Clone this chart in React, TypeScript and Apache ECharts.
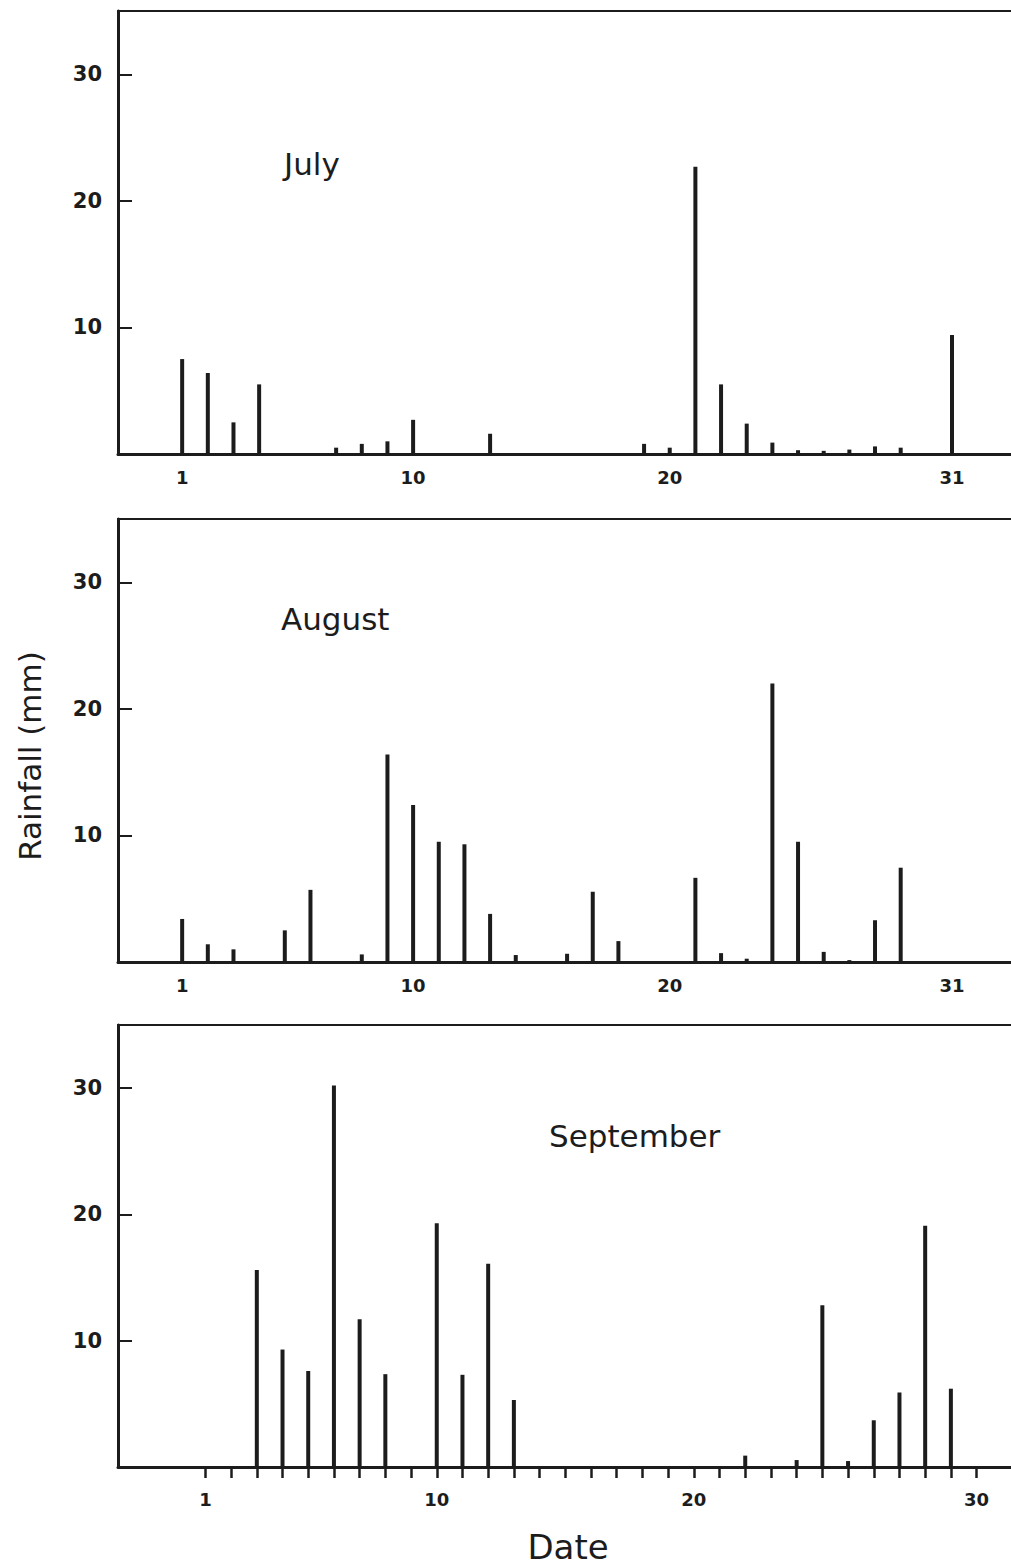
import React, { useEffect, useRef } from "react";
import * as echarts from "echarts";

// Daily rainfall (mm)
const julyDays = [1, 2, 3, 4, 7, 8, 9, 10, 13, 19, 20, 21, 22, 23, 24, 25, 26, 27, 28, 29, 31];
const julyRain = [7.5, 6.4, 2.5, 5.5, 0.5, 0.8, 1.0, 2.7, 1.6, 0.8, 0.5, 22.7, 5.5, 2.4, 0.9, 0.3, 0.25, 0.35, 0.6, 0.5, 9.4];

const augustDays = [1, 2, 3, 5, 6, 8, 9, 10, 11, 12, 13, 14, 16, 17, 18, 21, 22, 23, 24, 25, 26, 27, 28, 29];
const augustRain = [3.4, 1.4, 1.0, 2.5, 5.7, 0.6, 16.4, 12.4, 9.5, 9.3, 3.8, 0.55, 0.65, 5.55, 1.65, 6.65, 0.7, 0.26, 22.0, 9.5, 0.8, 0.15, 3.3, 7.45];

const septemberDays = [3, 4, 5, 6, 7, 8, 10, 11, 12, 13, 22, 24, 25, 26, 27, 28, 29, 30];
const septemberRain = [15.6, 9.3, 7.6, 30.2, 11.7, 7.35, 19.3, 7.3, 16.1, 5.3, 0.9, 0.55, 12.8, 0.47, 3.7, 5.9, 19.1, 6.2];

const months = ["July", "August", "September"];
const yTicks = [10, 20, 30];
const monthLabelDays = [1, 10, 20, 31];
// the September figure prints "30" under its last tick
const septLabelDays = [1, 10, 20, 31];
const septLabelText: Record<number, string> = { 1: "1", 10: "10", 20: "20", 31: "30" };
const septTickDays = Array.from({ length: 31 }, (_, i) => i + 1);

const FONT = "DejaVu Sans";
const INK = "#1c1c1c";

export default function App() {
  const ref = useRef<HTMLDivElement>(null);

  useEffect(() => {
    if (!ref.current) return;
    const chart = echarts.init(ref.current, null, { renderer: "svg" });

    const grids = [
      { left: 118, top: 11, width: 911, height: 443 },
      { left: 118, top: 519, width: 911, height: 443 },
      { left: 118, top: 1025, width: 910, height: 442 },
    ].map((g) => ({
      ...g,
      show: true,
      borderColor: INK,
      borderWidth: 2,
      backgroundColor: "transparent",
      containLabel: false,
      outerBoundsMode: "none",
    }));

    const xRanges = [
      { min: -1.5, max: 34 },
      { min: -1.5, max: 34 },
      { min: -2.4, max: 33 },
    ];

    const xAxes = xRanges.map((r, i) => {
      const isSept = i === 2;
      return {
        type: "value",
        gridIndex: i,
        min: r.min,
        max: r.max,
        splitLine: { show: false },
        axisLine: { show: true, onZero: false, lineStyle: { color: INK, width: 3 } },
        axisTick: isSept
          ? { show: true, inside: false, length: 11, customValues: septTickDays, lineStyle: { color: INK, width: 2.5 } }
          : { show: false },
        axisLabel: {
          show: true,
          customValues: isSept ? septLabelDays : monthLabelDays,
          formatter: (v: number) => (isSept ? septLabelText[v] ?? "" : String(v)),
          margin: isSept ? 23 : 14,
          fontFamily: FONT,
          fontSize: 18,
          fontWeight: "bold",
          color: INK,
        },
      };
    });

    const yAxes = [0, 1, 2].map((i) => ({
      type: "value",
      gridIndex: i,
      min: 0,
      max: 35,
      splitLine: { show: false },
      axisLine: { show: true, onZero: false, lineStyle: { color: INK, width: 3 } },
      axisTick: { show: true, inside: true, length: 14, customValues: yTicks, lineStyle: { color: INK, width: 2 } },
      axisLabel: {
        show: true,
        customValues: yTicks,
        formatter: (v: number) => (yTicks.includes(v) ? String(v) : ""),
        margin: 16,
        fontFamily: FONT,
        fontSize: 21,
        fontWeight: "bold",
        color: INK,
      },
    }));

    const dataSets = [
      [julyDays, julyRain],
      [augustDays, augustRain],
      [septemberDays, septemberRain],
    ];

    const series = dataSets.map(([days, rain], i) => ({
      type: "bar",
      name: months[i],
      xAxisIndex: i,
      yAxisIndex: i,
      barWidth: 4,
      itemStyle: { color: INK },
      data: days.map((d, k) => [d, rain[k]]),
    }));

    const titleStyle = { fontFamily: FONT, fontSize: 31, fill: INK };

    chart.setOption({
      animation: false,
      backgroundColor: "#ffffff",
      grid: grids,
      xAxis: xAxes,
      yAxis: yAxes,
      series,
      graphic: [
        { type: "text", left: 284, top: 148, style: { ...titleStyle, text: months[0] } },
        { type: "text", left: 281, top: 603, style: { ...titleStyle, text: months[1] } },
        { type: "text", left: 549, top: 1120, style: { ...titleStyle, text: months[2] } },
        {
          type: "text",
          x: 30,
          y: 756,
          rotation: Math.PI / 2,
          style: { fontFamily: FONT, fontSize: 31, fill: INK, text: "Rainfall (mm)", align: "center", verticalAlign: "middle" },
        },
        {
          type: "text",
          x: 568,
          y: 1547,
          style: { fontFamily: FONT, fontSize: 34, fill: INK, text: "Date", align: "center", verticalAlign: "middle" },
        },
      ],
    });

    return () => chart.dispose();
  }, []);

  return (
    <div style={{ position: "absolute", left: 0, top: 0, width: 1011, height: 1568, overflow: "hidden", background: "#fff" }}>
      <div ref={ref} style={{ width: 1045, height: 1568 }} />
    </div>
  );
}
